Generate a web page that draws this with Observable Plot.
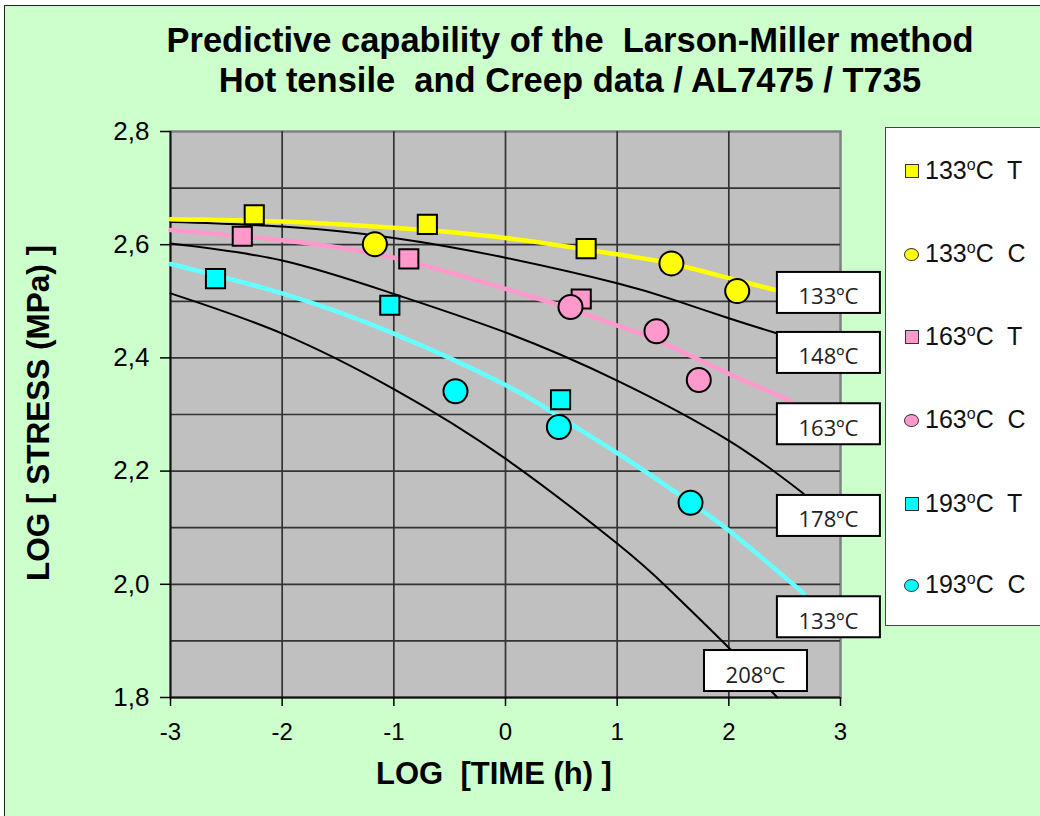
<!DOCTYPE html>
<html>
<head>
<meta charset="utf-8">
<script src="https://cdn.jsdelivr.net/npm/d3@7"></script>
<script src="https://cdn.jsdelivr.net/npm/@observablehq/plot@0.6"></script>
<style>
  html, body { margin: 0; padding: 0; background: #ffffff; }
  #wrap { position: relative; width: 1040px; height: 816px; overflow: hidden; font-family: "Liberation Sans", Arial, sans-serif; }
  #bg { position: absolute; left: 4px; top: 5px; width: 1100px; height: 900px; background: #ccffcc; border: 1.5px solid #222; }
  #title { position: absolute; left: 70px; top: 20px; width: 1000px; text-align: center; font-weight: bold; font-size: 34.5px; line-height: 40px; color: #000; }
  #ylab { position: absolute; left: -162px; top: 396px; width: 400px; height: 34px; line-height: 34px; text-align: center; font-weight: bold; font-size: 31.5px; transform: rotate(-90deg); color: #000; white-space: pre; }
  #xlab { position: absolute; left: 294px; top: 757px; width: 400px; line-height: 34px; text-align: center; font-weight: bold; font-size: 31px; color: #000; white-space: pre; }
  #chart { position: absolute; left: 0; top: 0; }
  #legend { position: absolute; left: 885px; top: 127px; width: 160px; height: 497px; background: #fff; border: 1.5px solid #444; }
  .item { position: absolute; left: 0; height: 30px; line-height: 30px; font-size: 25px; color: #111; white-space: pre; }
  .sym { position: absolute; top: 9px; width: 12px; height: 12px; border: 1px solid #333; }
  .item span.t { position: absolute; left: 39px; top: 0; }
  sup { font-size: 16px; vertical-align: 0; position: relative; top: -9px; }
</style>
</head>
<body>
<div id="wrap">
  <div id="bg"></div>
  <div id="title">Predictive capability of the&nbsp; Larson-Miller method<br>Hot tensile&nbsp; and Creep data / AL7475 / T735</div>
  <div id="chart"></div>
  <div id="ylab">LOG [ STRESS (MPa) ]</div>
  <div id="xlab">LOG  [TIME (h) ]</div>
  <div id="legend"></div>
</div>
<script>
// ---- Data ----
const xTicks = [-3, -2, -1, 0, 1, 2, 3];
const yTicks = [1.8, 2.0, 2.2, 2.4, 2.6, 2.8];
const yGridLines = [1.9, 2.0, 2.1, 2.2, 2.3, 2.4, 2.5, 2.6, 2.7];
const xGridLines = [-2, -1, 0, 1, 2];

// Larson-Miller prediction curves
const c133x = [-3, -2, -1, 0, 1, 1.5, 2, 2.435];
const c133y = [2.645, 2.641, 2.630, 2.612, 2.583, 2.566, 2.541, 2.519];
const c148x = [-3, -2, -1, 0, 1, 1.5, 2, 2.435];
const c148y = [2.640, 2.632, 2.612, 2.577, 2.532, 2.503, 2.470, 2.443];
const c163x = [-3, -2, -1, 0, 0.58, 1, 1.36, 2, 2.55];
const c163y = [2.626, 2.608, 2.577, 2.522, 2.487, 2.457, 2.431, 2.372, 2.325];
const c178x = [-3, -2, -1, 0, 1, 2, 2.67];
const c178y = [2.602, 2.572, 2.513, 2.445, 2.360, 2.254, 2.160];
const c193x = [-3, -2, -1, 0, 0.5, 1, 1.5, 2, 2.67];
const c193y = [2.566, 2.514, 2.443, 2.352, 2.294, 2.232, 2.166, 2.095, 1.984];
const c208x = [-3, -2, -1, 0, 1, 1.45, 2, 2.435];
const c208y = [2.514, 2.443, 2.345, 2.222, 2.072, 1.994, 1.888, 1.800];

// Measured data: T = hot tensile, C = creep
const t133x = [-2.25, -0.70, 0.722];
const t133y = [2.653, 2.636, 2.593];
const k133x = [-1.17, 1.486, 2.075];
const k133y = [2.601, 2.567, 2.518];
const t163x = [-2.357, -0.866, 0.678];
const t163y = [2.615, 2.575, 2.504];
const k163x = [0.582, 1.352, 1.731];
const k163y = [2.490, 2.447, 2.361];
const t193x = [-2.597, -1.036, 0.493];
const t193y = [2.540, 2.493, 2.326];
const k193x = [-0.448, 0.478, 1.657];
const k193y = [2.341, 2.278, 2.144];

// Curve labels (anchored at data coordinates)
const labelText = ["133ºC", "148ºC", "163ºC", "178ºC", "133ºC", "208ºC"];
const labelX = [2.435, 2.435, 2.435, 2.435, 2.435, 1.782];
const labelY = [2.551, 2.445, 2.319, 2.157, 1.978, 1.883];

// Legend
const legendNames = ["133", "133", "163", "163", "193", "193"];
const legendKinds = ["T", "C", "T", "C", "T", "C"];
const legendColors = ["#ffff00", "#ffff00", "#ff99cc", "#ff99cc", "#00ffff", "#00ffff"];

// ---- Build tables ----
const zip = (xs, ys, extra) => xs.map((x, i) => Object.assign({x, y: ys[i]}, extra));
const blackCurves = [
  ...zip(c148x, c148y, {c: "148"}),
  ...zip(c178x, c178y, {c: "178"}),
  ...zip(c208x, c208y, {c: "208"})
];
const yellowCurve = zip(c133x, c133y, {});
const pinkCurve = zip(c163x, c163y, {});
const cyanCurve = zip(c193x, c193y, {});
const squares = [
  ...zip(t133x, t133y, {f: "#ffff00"}),
  ...zip(t163x, t163y, {f: "#ff99cc"}),
  ...zip(t193x, t193y, {f: "#00ffff"})
];
const circles = [
  ...zip(k133x, k133y, {f: "#ffff00"}),
  ...zip(k163x, k163y, {f: "#ff99cc"}),
  ...zip(k193x, k193y, {f: "#00ffff"})
];
const labels = labelText.map((t, i) => ({t, x: labelX[i], y: labelY[i]}));

const comma = d => d.toFixed(1).replace(".", ",");

const chart = Plot.plot({
  width: 1040,
  height: 816,
  marginLeft: 170,
  marginRight: 200,
  marginTop: 131,
  marginBottom: 119,
  style: {background: "transparent", fontFamily: "Liberation Sans, Arial, sans-serif", color: "#000", overflow: "visible"},
  x: {domain: [-3, 3]},
  y: {domain: [1.8, 2.8]},
  marks: [
    Plot.frame({fill: "#c0c0c0", stroke: "#808080", strokeWidth: 2.5}),
    Plot.gridX(xGridLines, {stroke: "#333", strokeOpacity: 1, strokeWidth: 1.7}),
    Plot.gridY(yGridLines, {stroke: "#333", strokeOpacity: 1, strokeWidth: 1.7}),
    Plot.ruleX([-3], {stroke: "#111", strokeWidth: 1.8}),
    Plot.ruleY([1.8], {stroke: "#111", strokeWidth: 1.8}),
    Plot.axisX({ticks: xTicks, tickSize: 9, tickPadding: 16, fontSize: 24, tickFormat: d => String(d), label: null, strokeWidth: 1.5}),
    Plot.axisY({ticks: yTicks, tickSize: 10, tickPadding: 11, fontSize: 26, tickFormat: comma, label: null, strokeWidth: 1.5}),
    Plot.line(blackCurves, {x: "x", y: "y", z: "c", stroke: "#000", strokeWidth: 2, curve: "natural"}),
    Plot.line(yellowCurve, {x: "x", y: "y", stroke: "#ffff00", strokeWidth: 4.5, curve: "natural"}),
    Plot.line(pinkCurve, {x: "x", y: "y", stroke: "#ff99cc", strokeWidth: 4.5, curve: "natural"}),
    Plot.line(cyanCurve, {x: "x", y: "y", stroke: "#66ffff", strokeWidth: 4.5, curve: "natural"}),
    Plot.dot(squares, {x: "x", y: "y", symbol: "square", r: 10.8, fill: "f", stroke: "#000", strokeWidth: 2}),
    Plot.dot(circles, {x: "x", y: "y", symbol: "circle", r: 12, fill: "f", stroke: "#000", strokeWidth: 2}),
    Plot.rect(labels, {x1: "x", x2: "x", y1: "y", y2: "y", insetRight: -103, insetBottom: -41, fill: "#fff", stroke: "#000", strokeWidth: 2}),
    Plot.text(labels, {x: "x", y: "y", text: "t", dx: 51, dy: 25, fontSize: 22, fontFamily: "Open Sans, sans-serif", fill: "#222"})
  ]
});
document.getElementById("chart").appendChild(chart);

// Legend
const legend = document.getElementById("legend");
const legendTop = [42, 125, 208, 291, 375, 456];
legendNames.forEach((n, i) => {
  const item = document.createElement("div");
  item.className = "item";
  item.style.top = (legendTop[i] - 15) + "px";
  const sym = document.createElement("div");
  sym.className = "sym";
  sym.style.background = legendColors[i];
  if (legendKinds[i] === "C") {
    sym.style.borderRadius = "50%";
    sym.style.width = "13px";
    sym.style.height = "11px";
    sym.style.top = "10px";
    sym.style.left = "18px";
  } else {
    sym.style.left = "19px";
  }
  item.appendChild(sym);
  const t = document.createElement("span");
  t.className = "t";
  t.innerHTML = n + "<sup>o</sup>C  " + legendKinds[i];
  item.appendChild(t);
  legend.appendChild(item);
});
</script>
</body>
</html>
